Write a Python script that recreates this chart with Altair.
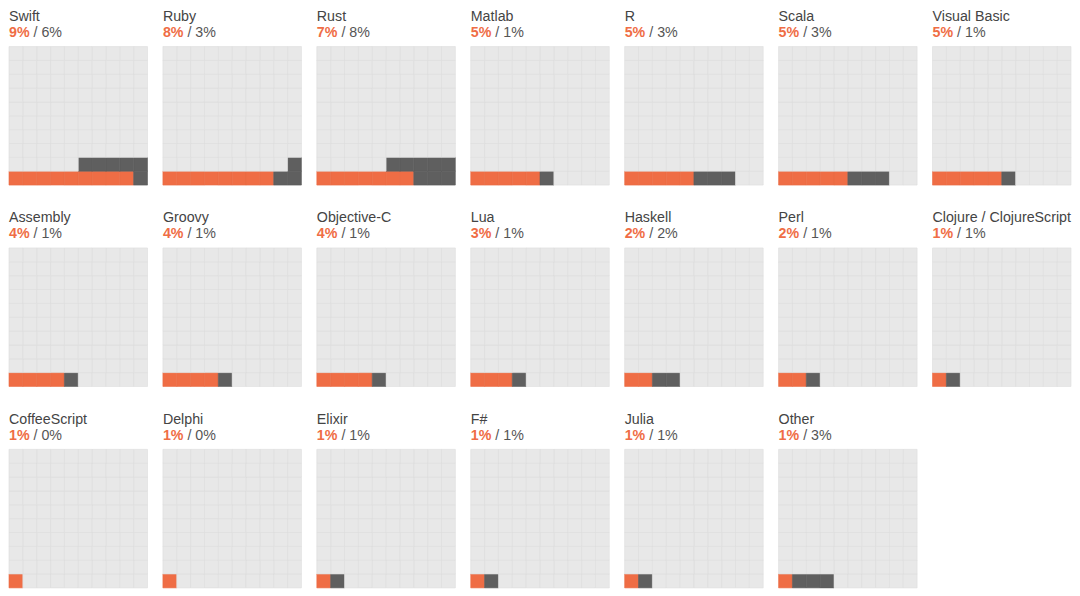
import altair as alt
import pandas as pd

languages = ["Swift", "Ruby", "Rust", "Matlab", "R", "Scala", "Visual Basic",
             "Assembly", "Groovy", "Objective-C", "Lua", "Haskell", "Perl",
             "Clojure / ClojureScript", "CoffeeScript", "Delphi", "Elixir",
             "F#", "Julia", "Other"]
first_pct = [9, 8, 7, 5, 5, 5, 5, 4, 4, 4, 3, 2, 2, 1, 1, 1, 1, 1, 1, 1]
second_pct = [6, 3, 8, 1, 3, 3, 1, 1, 1, 1, 1, 2, 1, 1, 0, 0, 1, 1, 1, 3]

ORANGE = "#ef6d45"
DARK = "#5f5f5f"
EMPTY = "#e8e8e8"

rows = []
for i, (lang, a, b) in enumerate(zip(languages, first_pct, second_pct)):
    for k in range(100):
        r = k // 10
        c = k % 10 if r % 2 == 0 else 9 - (k % 10)
        if k < a:
            cat = "first"
        elif k < a + b:
            cat = "second"
        else:
            cat = "empty"
        rows.append({"lang": lang, "order": i, "col": c, "col2": c + 1,
                     "row": r, "row2": r + 1, "cat": cat, "k": k,
                     "first": f"{a}%", "second": f"/ {b}%"})
cells = pd.DataFrame(rows)

W = 141
GRID_H = 141
FS = 14.5
FONT = "Liberation Sans"

xs = alt.Scale(domain=[0, 10], nice=False, zero=False)
ys = alt.Scale(domain=[0, 10], nice=False, zero=False)

base = alt.Chart(cells)
rects = base.mark_rect(strokeWidth=0.6).encode(
    x=alt.X("col:Q", scale=xs, axis=None),
    x2="col2:Q",
    y=alt.Y("row:Q", scale=ys, axis=None),
    y2="row2:Q",
    color=alt.Color("cat:N",
                    scale=alt.Scale(domain=["first", "second", "empty"],
                                    range=[ORANGE, DARK, EMPTY]),
                    legend=None),
    stroke=alt.Stroke("cat:N",
                      scale=alt.Scale(domain=["first", "second", "empty"],
                                      range=["#e86a42", "#5a5a5a", "#dcdcdc"]),
                      legend=None),
)

lab = base.transform_filter("datum.k == 0")

name_t = lab.mark_text(align="left", baseline="alphabetic", fontSize=FS,
                       font=FONT, color="#444444").encode(
    x=alt.value(0), y=alt.value(-26), text="lang:N")
first_t = lab.mark_text(align="left", baseline="alphabetic", fontSize=FS,
                        font=FONT, fontWeight="bold", color=ORANGE).encode(
    x=alt.value(0), y=alt.value(-10), text="first:N")
second_t = lab.mark_text(align="left", baseline="alphabetic", fontSize=FS,
                         font=FONT, color="#555555").encode(
    x=alt.value(25), y=alt.value(-10), text="second:N")

layer = alt.layer(rects, name_t, first_t, second_t).properties(width=W, height=GRID_H)

chart = layer.facet(
    facet=alt.Facet("lang:N", sort=alt.SortField("order"),
                    header=alt.Header(labels=False, title=None, labelPadding=0,
                                      labelFontSize=0), title=None),
    columns=7,
    spacing={"row": 25, "column": 13.67},
).properties(padding={"left": 0, "top": -4, "right": 0, "bottom": 0}).configure_view(
    stroke=None).configure_header(
    labels=False, labelFontSize=0, labelPadding=0, titleFontSize=0)

chart.save("out.html", embed_options={"renderer": "svg", "actions": False})
